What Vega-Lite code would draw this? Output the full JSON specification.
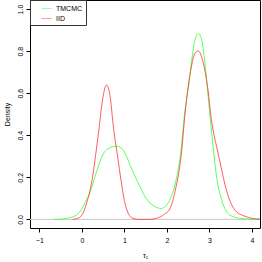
{
  "$schema": "https://vega.github.io/schema/vega-lite/v6.json",
  "width": 230,
  "height": 228,
  "autosize": {"type": "none"},
  "padding": {"left": 30, "top": 0, "right": 2, "bottom": 34},
  "background": "white",
  "config": {
    "view": {"stroke": "#000000", "strokeWidth": 1},
    "font": "Liberation Sans",
    "axis": {
      "grid": false,
      "domain": false,
      "ticks": true,
      "tickColor": "#000000",
      "tickSize": 4,
      "labelColor": "#000000",
      "labelFont": "Liberation Sans",
      "labelFontSize": 7,
      "titleFont": "Liberation Sans",
      "titleFontSize": 7,
      "titleFontWeight": "normal",
      "titleColor": "#000000"
    }
  },
  "datasets": {
    "curves": [
      {"x": -0.66, "y": 0.0, "s": "TMCMC"},
      {"x": -0.5, "y": 0.001, "s": "TMCMC"},
      {"x": -0.36, "y": 0.005, "s": "TMCMC"},
      {"x": -0.22, "y": 0.012, "s": "TMCMC"},
      {"x": -0.13, "y": 0.02, "s": "TMCMC"},
      {"x": 0.0, "y": 0.05, "s": "TMCMC"},
      {"x": 0.1, "y": 0.09, "s": "TMCMC"},
      {"x": 0.19, "y": 0.127, "s": "TMCMC"},
      {"x": 0.35, "y": 0.23, "s": "TMCMC"},
      {"x": 0.5, "y": 0.31, "s": "TMCMC"},
      {"x": 0.66, "y": 0.34, "s": "TMCMC"},
      {"x": 0.82, "y": 0.348, "s": "TMCMC"},
      {"x": 0.95, "y": 0.335, "s": "TMCMC"},
      {"x": 1.05, "y": 0.3, "s": "TMCMC"},
      {"x": 1.15, "y": 0.25, "s": "TMCMC"},
      {"x": 1.31, "y": 0.18, "s": "TMCMC"},
      {"x": 1.51, "y": 0.1, "s": "TMCMC"},
      {"x": 1.7, "y": 0.063, "s": "TMCMC"},
      {"x": 1.86, "y": 0.052, "s": "TMCMC"},
      {"x": 1.98, "y": 0.065, "s": "TMCMC"},
      {"x": 2.09, "y": 0.103, "s": "TMCMC"},
      {"x": 2.23, "y": 0.2, "s": "TMCMC"},
      {"x": 2.33, "y": 0.325, "s": "TMCMC"},
      {"x": 2.41, "y": 0.49, "s": "TMCMC"},
      {"x": 2.52, "y": 0.65, "s": "TMCMC"},
      {"x": 2.6, "y": 0.78, "s": "TMCMC"},
      {"x": 2.67, "y": 0.86, "s": "TMCMC"},
      {"x": 2.74, "y": 0.884, "s": "TMCMC"},
      {"x": 2.81, "y": 0.86, "s": "TMCMC"},
      {"x": 2.88, "y": 0.77, "s": "TMCMC"},
      {"x": 2.95, "y": 0.63, "s": "TMCMC"},
      {"x": 3.02, "y": 0.48, "s": "TMCMC"},
      {"x": 3.09, "y": 0.34, "s": "TMCMC"},
      {"x": 3.17, "y": 0.2, "s": "TMCMC"},
      {"x": 3.29, "y": 0.092, "s": "TMCMC"},
      {"x": 3.48, "y": 0.02, "s": "TMCMC"},
      {"x": 3.72, "y": 0.005, "s": "TMCMC"},
      {"x": 4.0, "y": 0.001, "s": "TMCMC"},
      {"x": 4.19, "y": 0.0, "s": "TMCMC"},
      {"x": -0.22, "y": 0.0, "s": "IID"},
      {"x": -0.1, "y": 0.005, "s": "IID"},
      {"x": 0.0, "y": 0.02, "s": "IID"},
      {"x": 0.1, "y": 0.07, "s": "IID"},
      {"x": 0.24, "y": 0.187, "s": "IID"},
      {"x": 0.32, "y": 0.3, "s": "IID"},
      {"x": 0.4, "y": 0.425, "s": "IID"},
      {"x": 0.48, "y": 0.56, "s": "IID"},
      {"x": 0.58, "y": 0.639, "s": "IID"},
      {"x": 0.66, "y": 0.59, "s": "IID"},
      {"x": 0.75, "y": 0.425, "s": "IID"},
      {"x": 0.84, "y": 0.3, "s": "IID"},
      {"x": 0.92, "y": 0.187, "s": "IID"},
      {"x": 1.0, "y": 0.09, "s": "IID"},
      {"x": 1.09, "y": 0.029, "s": "IID"},
      {"x": 1.2, "y": 0.005, "s": "IID"},
      {"x": 1.35, "y": 0.0, "s": "IID"},
      {"x": 1.6, "y": 0.0, "s": "IID"},
      {"x": 1.75, "y": 0.005, "s": "IID"},
      {"x": 1.94, "y": 0.024, "s": "IID"},
      {"x": 2.07, "y": 0.05, "s": "IID"},
      {"x": 2.14, "y": 0.09, "s": "IID"},
      {"x": 2.21, "y": 0.15, "s": "IID"},
      {"x": 2.27, "y": 0.21, "s": "IID"},
      {"x": 2.35, "y": 0.33, "s": "IID"},
      {"x": 2.42, "y": 0.49, "s": "IID"},
      {"x": 2.5, "y": 0.63, "s": "IID"},
      {"x": 2.58, "y": 0.73, "s": "IID"},
      {"x": 2.66, "y": 0.79, "s": "IID"},
      {"x": 2.74, "y": 0.8, "s": "IID"},
      {"x": 2.82, "y": 0.77, "s": "IID"},
      {"x": 2.9, "y": 0.7, "s": "IID"},
      {"x": 2.97, "y": 0.61, "s": "IID"},
      {"x": 3.03, "y": 0.5, "s": "IID"},
      {"x": 3.1, "y": 0.41, "s": "IID"},
      {"x": 3.17, "y": 0.345, "s": "IID"},
      {"x": 3.23, "y": 0.29, "s": "IID"},
      {"x": 3.29, "y": 0.234, "s": "IID"},
      {"x": 3.4, "y": 0.139, "s": "IID"},
      {"x": 3.5, "y": 0.08, "s": "IID"},
      {"x": 3.6, "y": 0.044, "s": "IID"},
      {"x": 3.75, "y": 0.022, "s": "IID"},
      {"x": 3.88, "y": 0.012, "s": "IID"},
      {"x": 4.0, "y": 0.005, "s": "IID"},
      {"x": 4.19, "y": 0.001, "s": "IID"}
    ],
    "zero": [{"y": 0}]
  },
  "layer": [
    {
      "data": {"name": "zero"},
      "mark": {"type": "rule", "color": "#c8c8c8", "strokeWidth": 1},
      "encoding": {
        "y": {"field": "y", "type": "quantitative", "scale": {"domain": [-0.041, 1.043], "nice": false, "zero": false}}
      }
    },
    {
      "data": {"name": "curves"},
      "mark": {"type": "line", "strokeWidth": 0.8, "interpolate": "monotone", "clip": true},
      "encoding": {
        "x": {
          "field": "x", "type": "quantitative",
          "scale": {"domain": [-1.22, 4.19], "nice": false, "zero": false},
          "axis": {"values": [-1, 0, 1, 2, 3, 4], "title": "τ₁", "labelPadding": 4, "titlePadding": 8, "labelFlush": false}
        },
        "y": {
          "field": "y", "type": "quantitative",
          "scale": {"domain": [-0.041, 1.043], "nice": false, "zero": false},
          "axis": {"values": [0, 0.2, 0.4, 0.6, 0.8, 1.0], "format": ".1f", "title": "Density", "labelAngle": -90, "labelAlign": "center", "labelBaseline": "bottom", "labelPadding": 3, "titlePadding": 6, "labelFlush": false}
        },
        "color": {
          "field": "s", "type": "nominal",
          "scale": {"domain": ["TMCMC", "IID"], "range": ["#33ff33", "#ff3333"]},
          "sort": ["TMCMC", "IID"],
          "legend": {
            "title": null,
            "orient": "top-left",
            "offset": 0,
            "padding": 3,
            "strokeColor": "#333333",
            "fillColor": "white",
            "symbolType": "stroke",
            "symbolSize": 100,
            "symbolStrokeWidth": 0.6,
            "symbolFillColor": "transparent",
            "symbolOpacity": 0.8,
            "symbolOffset": 8,
            "labelFontSize": 7,
            "labelFont": "Liberation Sans",
            "labelColor": "#000000",
            "labelOffset": 4,
            "rowPadding": 1
          }
        }
      }
    }
  ]
}
